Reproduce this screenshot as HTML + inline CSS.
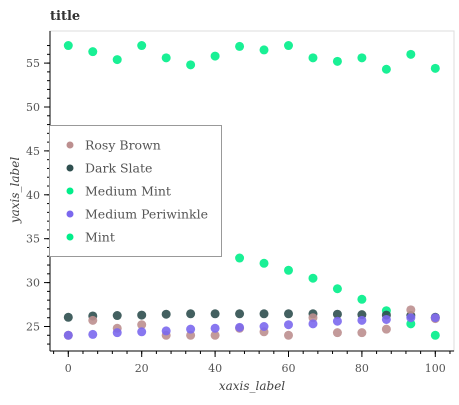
<!DOCTYPE html>
<html><head><meta charset="utf-8"><style>
body{margin:0;background:#fff;}
text{font-family:"DejaVu Serif","Liberation Serif",serif;}
</style></head><body>
<svg id="c" width="459" height="400" xmlns="http://www.w3.org/2000/svg">
<rect width="459" height="400" fill="#fff"/>
<text x="50" y="20" font-size="13" font-weight="bold" fill="#333">title</text>
<rect x="50" y="31" width="404" height="320" fill="none" stroke="#ddd"/>
<g id="axes"></g>
<g id="pts"></g>
<text x="252" y="390" font-size="12" font-style="italic" fill="#444" text-anchor="middle">xaxis_label</text>
<text transform="translate(19,190) rotate(-90)" font-size="12" font-style="italic" fill="#444" text-anchor="middle">yaxis_label</text>
<g id="legend"></g>
</svg>
<script>
const xs=[0,6.67,13.33,20,26.67,33.33,40,46.67,53.33,60,66.67,73.33,80,86.67,93.33,100];
const mint=[57.0,56.3,55.4,57.0,55.6,54.8,55.8,56.9,56.5,57.0,55.6,55.2,55.6,54.3,56.0,54.4];
const mediumMint=[37.5,37,36.5,36,35.5,35,33.6,32.8,32.2,31.4,30.5,29.3,28.1,26.8,25.3,24.0];
const darkSlate=[26.05,26.2,26.25,26.3,26.4,26.45,26.45,26.45,26.45,26.45,26.45,26.4,26.35,26.3,26.25,26.05];
const rosyBrown=[24.0,25.7,24.8,25.2,24.0,24.0,24.0,24.8,24.4,24.0,26.0,24.3,24.3,24.7,26.9,25.9];
const periwinkle=[24.0,24.1,24.3,24.4,24.5,24.7,24.8,24.9,25.0,25.2,25.3,25.6,25.7,25.8,26.0,26.0];
const xTicks=[0,20,40,60,80,100];
const yTicks=[25,30,35,40,45,50,55];
const X=v=>68.3+v*3.67, Y=v=>326.5-(v-25)*8.78;
const NS="http://www.w3.org/2000/svg";
function mk(t,a,p){const e=document.createElementNS(NS,t);for(const k in a)e.setAttribute(k,a[k]);p.appendChild(e);return e;}
const ax=document.getElementById('axes');
const yl=mk('line',{x1:50,y1:31,x2:50,y2:351,stroke:'#000'},ax);


const xl=mk('line',{x1:50,y1:351,x2:454,y2:351,stroke:'#000'},ax);


for(let v=-4;v<=104;v+=4){mk('line',{x1:X(v),y1:351,x2:X(v),y2:354,stroke:'#000'},ax);}
for(let v=22;v<=57;v+=1){if(Y(v)<31||Y(v)>350)continue;mk('line',{x1:47,y1:Y(v),x2:50,y2:Y(v),stroke:'#000'},ax);}
xTicks.forEach(v=>{mk('line',{x1:X(v),y1:351,x2:X(v),y2:357,stroke:'#000'},ax);
const t=mk('text',{x:X(v),y:372,'font-size':11,'text-anchor':'middle',fill:'#555'},ax);t.textContent=v;

});
yTicks.forEach(v=>{mk('line',{x1:44,y1:Y(v),x2:50,y2:Y(v),stroke:'#000'},ax);
const t=mk('text',{x:40,y:Y(v)+4,'font-size':11,'text-anchor':'end',fill:'#555'},ax);t.textContent=v;

});
const series=[["mint",mint,"#00EE8A"],["medium-mint",mediumMint,"#00EE8A"],["dark-slate",darkSlate,"#2F4F4F"],["rosy-brown",rosyBrown,"#BC8F8F"],["medium-periwinkle",periwinkle,"#7B68EE"]];
const pg=document.getElementById('pts');
series.forEach(([n,d,c])=>{d.forEach((v,i)=>{const e=mk('circle',{cx:X(xs[i]),cy:Y(v),r:4.5,fill:c,opacity:0.9},pg);

});});
const lg=document.getElementById('legend');
const box=mk('rect',{x:49.5,y:125.5,width:172,height:131,fill:'#fff',stroke:'#999'},lg);


[["Rosy Brown","#BC8F8F"],["Dark Slate","#2F4F4F"],["Medium Mint","#00EE8A"],["Medium Periwinkle","#7B68EE"],["Mint","#00EE8A"]].forEach(([l,c],i)=>{
const y=145+i*23;
const m=mk('circle',{cx:70,cy:y,r:3.5,fill:c},lg);


const t=mk('text',{x:85,y:y+4.5,'font-size':12.5,fill:'#555'},lg);t.textContent=l;

});
</script>
</body></html>
